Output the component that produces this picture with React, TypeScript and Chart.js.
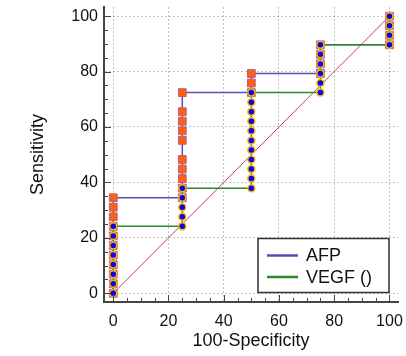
import React, { useEffect, useRef } from 'react';
import { Chart, registerables } from 'chart.js';

Chart.register(...registerables);

// ---- data ----
const seriesNames = ['AFP', 'VEGF ()'];

const afpX = [
  0, 0, 0, 0, 0, 0, 0, 0, 0, 0, 0,
  25, 25, 25, 25, 25, 25, 25, 25, 25, 25,
  50, 50, 50,
  75, 75, 75, 75,
  100, 100, 100, 100,
];
const afpY = [
  0, 3.45, 6.9, 10.34, 13.79, 17.24, 20.69, 24.14, 27.59, 31.03, 34.48,
  34.48, 37.93, 41.38, 44.83, 48.28, 55.17, 58.62, 62.07, 65.52, 72.41,
  72.41, 75.86, 79.31,
  79.31, 82.76, 86.21, 89.66,
  89.66, 93.1, 96.55, 100,
];

const vegfX = [
  0, 0, 0, 0, 0, 0, 0, 0,
  25, 25, 25, 25, 25,
  50, 50, 50, 50, 50, 50, 50, 50, 50, 50, 50,
  75, 75, 75, 75, 75, 75,
  100, 100, 100, 100,
];
const vegfY = [
  0, 3.45, 6.9, 10.34, 13.79, 17.24, 20.69, 24.14,
  24.14, 27.59, 31.03, 34.48, 37.93,
  37.93, 41.38, 44.83, 48.28, 51.72, 55.17, 58.62, 62.07, 65.52, 68.97, 72.41,
  72.41, 75.86, 79.31, 82.76, 86.21, 89.66,
  89.66, 93.1, 96.55, 100,
];

const diagX = [0, 100];
const diagY = [0, 100];

const xTicks = [0, 20, 40, 60, 80, 100];
const yTicks = [0, 20, 40, 60, 80, 100];
const minorTicks = [0, 5, 10, 15, 20, 25, 30, 35, 40, 45, 50, 55, 60, 65, 70, 75, 80, 85, 90, 95, 100];

const xTitle = '100-Specificity';
const yTitle = 'Sensitivity';

const FONT = "'Liberation Sans', Arial, sans-serif";

const toPts = (xs: number[], ys: number[]) => xs.map((x, i) => ({ x, y: ys[i] }));

const innerTicks = {
  id: 'innerTicks',
  afterDraw(chart: any) {
    const { ctx, chartArea, scales } = chart;
    const xs = scales.x;
    const ys = scales.y;
    ctx.save();
    ctx.strokeStyle = '#444';
    ctx.lineWidth = 1;
    minorTicks.forEach((v) => {
      const len = xTicks.includes(v) ? 7 : 4;
      const px = Math.round(xs.getPixelForValue(v)) + 0.5;
      ctx.beginPath();
      ctx.moveTo(px, chartArea.bottom);
      ctx.lineTo(px, chartArea.bottom - len);
      ctx.stroke();
      const leny = yTicks.includes(v) ? 7 : 4;
      const py = Math.round(ys.getPixelForValue(v)) + 0.5;
      ctx.beginPath();
      ctx.moveTo(chartArea.left, py);
      ctx.lineTo(chartArea.left + leny, py);
      ctx.stroke();
    });
    ctx.restore();
  },
};

const boxLegend = {
  id: 'boxLegend',
  afterDraw(chart: any) {
    const { ctx, chartArea } = chart;
    const w = 131;
    const h = 54;
    const right = chartArea.right - 9;
    const bottom = chartArea.bottom - 9.5;
    const left = right - w;
    const top = bottom - h;
    ctx.save();
    ctx.fillStyle = '#ffffff';
    ctx.fillRect(left, top, w, h);
    ctx.strokeStyle = '#333';
    ctx.lineWidth = 1.5;
    ctx.strokeRect(left, top, w, h);
    const items = chart.data.datasets.filter((d: any) => seriesNames.includes(d.label));
    items.forEach((ds: any, i: number) => {
      const cy = top + 17 + i * 21.5;
      ctx.strokeStyle = ds.borderColor;
      ctx.lineWidth = 2.5;
      ctx.beginPath();
      ctx.moveTo(left + 9, cy);
      ctx.lineTo(left + 40, cy);
      ctx.stroke();
      ctx.fillStyle = '#111';
      ctx.font = `18px ${FONT}`;
      ctx.textBaseline = 'middle';
      ctx.textAlign = 'left';
      ctx.fillText(ds.label, left + 48, cy + 1);
    });
    ctx.restore();
  },
};

export default function App() {
  const ref = useRef<HTMLCanvasElement | null>(null);

  useEffect(() => {
    document.body.style.margin = '0';
    if (!ref.current) return;
    const chart = new Chart(ref.current, {
      type: 'scatter',
      data: {
        datasets: [
          {
            label: 'diag',
            data: toPts(diagX, diagY),
            showLine: true,
            borderColor: '#C04848',
            borderWidth: 1,
            pointRadius: 0,
            order: 3,
          },
          {
            label: seriesNames[0],
            data: toPts(afpX, afpY),
            showLine: true,
            borderColor: '#5050AE',
            borderWidth: 1.5,
            pointStyle: 'rect',
            pointRadius: 5.5,
            pointBackgroundColor: '#FF6010',
            pointBorderColor: '#B8608C',
            pointBorderWidth: 1,
            order: 2,
          },
          {
            label: seriesNames[1],
            data: toPts(vegfX, vegfY),
            showLine: true,
            borderColor: '#2A8A2A',
            borderWidth: 1.5,
            pointStyle: 'circle',
            pointRadius: 3.5,
            pointBackgroundColor: '#0000FF',
            pointBorderColor: '#FFB400',
            pointBorderWidth: 1.5,
            order: 1,
          },
        ],
      },
      options: {
        animation: false,
        responsive: false,
        maintainAspectRatio: false,
        layout: { padding: { top: 7, right: 8, left: 0, bottom: 0 } },
        plugins: {
          legend: { display: false },
          tooltip: { enabled: false },
        },
        scales: {
          x: {
            type: 'linear',
            min: -3.35,
            max: 103.1,
            afterBuildTicks: (s: any) => {
              s.ticks = xTicks.map((v) => ({ value: v }));
            },
            afterFit: (s: any) => {
              s.height = 54;
              s.paddingLeft = 0;
              s.paddingRight = 0;
            },
            ticks: {
              font: { family: FONT, size: 16 },
              color: '#111',
              padding: 10,
              maxRotation: 0,
            },
            grid: { color: 'rgba(0,0,0,0.24)', lineWidth: 1, drawTicks: false },
            border: { display: true, color: '#444', width: 2, dash: [2, 2] },
            title: {
              display: true,
              text: xTitle,
              font: { family: FONT, size: 18 },
              color: '#111',
              padding: { top: 0, bottom: 4 },
            },
          },
          y: {
            type: 'linear',
            min: -3.15,
            max: 103.3,
            afterBuildTicks: (s: any) => {
              s.ticks = yTicks.map((v) => ({ value: v }));
            },
            afterFit: (s: any) => {
              s.width = 104;
              s.paddingTop = 0;
              s.paddingBottom = 0;
            },
            ticks: {
              font: { family: FONT, size: 16 },
              color: '#111',
              padding: 6,
            },
            grid: { color: 'rgba(0,0,0,0.24)', lineWidth: 1, drawTicks: false },
            border: { display: true, color: '#444', width: 2, dash: [2, 2] },
            title: {
              display: true,
              text: yTitle,
              font: { family: FONT, size: 18 },
              color: '#111',
              padding: { top: 27, bottom: 0 },
            },
          },
        },
      },
      plugins: [innerTicks, boxLegend],
    });
    return () => chart.destroy();
  }, []);

  return (
    <div style={{ position: 'fixed', left: 0, top: 0, width: 406, height: 356, background: '#fff' }}>
      <canvas ref={ref} width={406} height={356} style={{ width: 406, height: 356, display: 'block' }} />
    </div>
  );
}
